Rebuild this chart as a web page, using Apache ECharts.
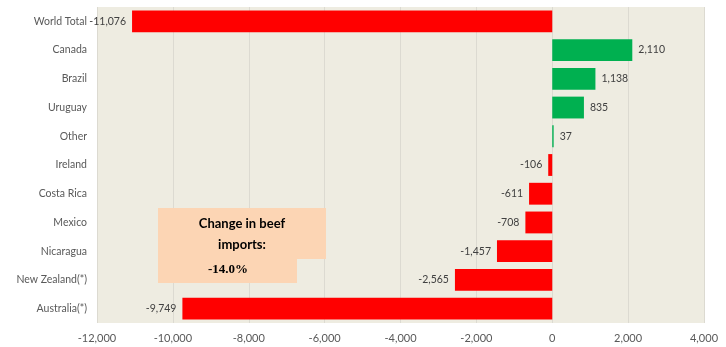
<!DOCTYPE html>
<html><head><meta charset="utf-8">
<script src="https://cdn.jsdelivr.net/npm/echarts@6/dist/echarts.min.js"></script>
<style>html,body{margin:0;padding:0;background:#fff}#c{width:726px;height:347px}</style>
</head><body><div id="c"></div>
<script>
const categories = ['World Total','Canada','Brazil','Uruguay','Other','Ireland','Costa Rica','Mexico','Nicaragua','New Zealand(*)','Australia(*)'];
const values = [-11076, 2110, 1138, 835, 37, -106, -611, -708, -1457, -2565, -9749];
const xTicks = {min: -12000, max: 4000, interval: 2000};
const noteTitle = 'Change in beef\nimports:';
const noteValue = '-14.0%';

const fmt = v => (v < 0 ? '-' : '') + Math.abs(v).toLocaleString('en-US');
const chart = echarts.init(document.getElementById('c'));
chart.setOption({
  backgroundColor: '#ffffff',
  animation: false,
  grid: {left: 97, right: 22, top: 7, bottom: 24, containLabel: false, outerBoundsMode: 'none',
    show: true, backgroundColor: '#EEECE1', borderWidth: 0},
  xAxis: {
    type: 'value', min: xTicks.min, max: xTicks.max, interval: xTicks.interval,
    axisLine: {show: false}, axisTick: {show: false},
    splitLine: {show: true, lineStyle: {color: '#DCDAD1', width: 1}},
    axisLabel: {color: '#595959', fontFamily: 'Lato', fontSize: 11, margin: 10,
      formatter: v => fmt(v)}
  },
  yAxis: {
    type: 'category', data: categories, inverse: true,
    axisLine: {show: false}, axisTick: {show: false},
    axisLabel: {color: '#595959', fontFamily: 'Lato', fontSize: 10.5, margin: 10}
  },
  series: [{
    type: 'bar', barCategoryGap: '24%',
    data: values.map(v => ({value: v,
      itemStyle: {color: v < 0 ? '#FF0000' : '#00B050'},
      label: {position: v < 0 ? 'left' : 'right'}})),
    label: {show: true, color: '#404040', fontFamily: 'Lato', fontSize: 10.5, distance: 6,
      formatter: p => fmt(p.value)}
  }],
  graphic: [
    {type: 'rect', shape: {x: 158, y: 208, width: 168, height: 51}, style: {fill: '#FCD5B4'}, z: 10},
    {type: 'rect', shape: {x: 158, y: 259, width: 139, height: 24}, style: {fill: '#FCD5B4'}, z: 10},
    {type: 'text', x: 242, y: 213, z: 11, style: {text: noteTitle, textAlign: 'center', font: 'bold 13px Lato', fill: '#000', lineHeight: 21}},
    {type: 'text', x: 228, y: 263, z: 11, style: {text: noteValue, textAlign: 'center', font: 'bold 13px "Liberation Serif"', fill: '#000'}}
  ]
});
</script></body></html>
